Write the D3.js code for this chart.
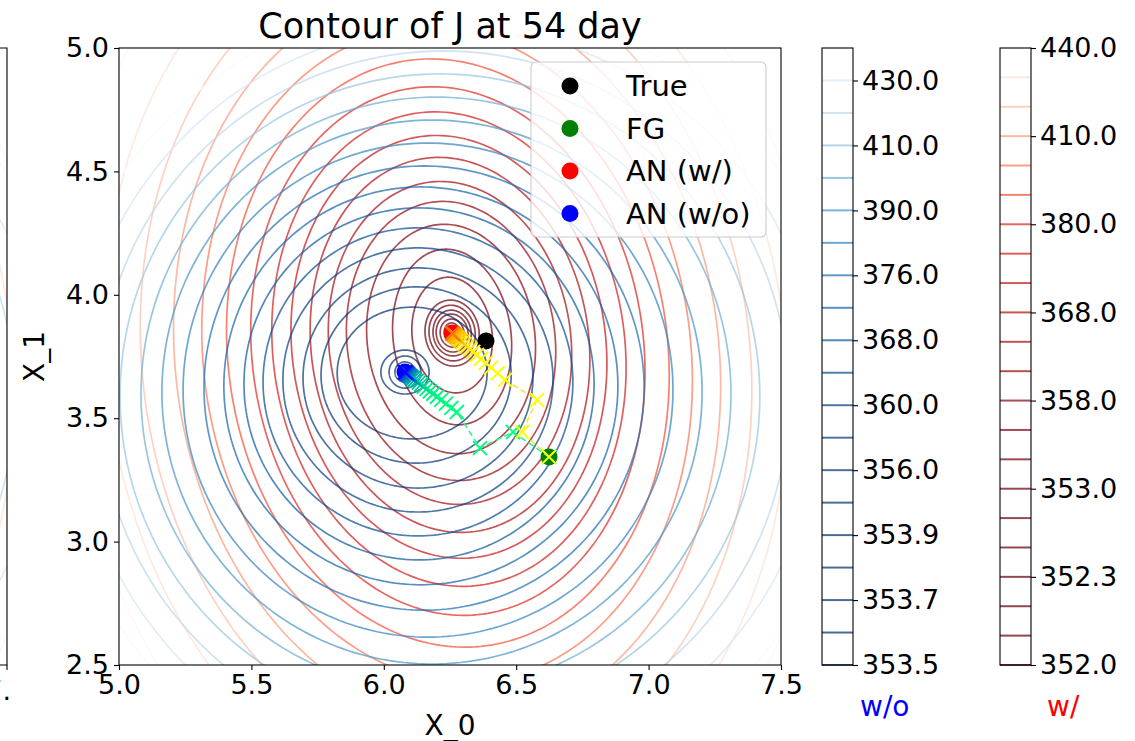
<!DOCTYPE html>
<html>
<head>
<meta charset="utf-8">
<script src="https://cdn.jsdelivr.net/npm/d3@7"></script>
<style>
  body { margin: 0; background: #fff; }
  text { font-family: "DejaVu Sans", sans-serif; }
</style>
</head>
<body>
<div id="viz"></div>
<script>
// ---- data ----
// contour levels (w/o = blue set, w/ = red set), from the colour bars
var levelsWo = [353.5, 353.6, 353.7, 353.8, 353.9, 355.0, 356.0, 358.0, 360.0, 364.0,
                368.0, 372.0, 376.0, 383.0, 390.0, 400.0, 410.0, 420.0, 430.0, 445.0];
var levelsW  = [352.0, 352.1, 352.2, 352.3, 352.5, 352.7, 353.0, 354.5, 356.0, 358.0, 361.0,
                364.5, 368.0, 372.0, 376.0, 380.0, 390.0, 400.0, 410.0, 420.0, 430.0, 440.0];

// ring of each level: centre and half widths in data units
var woCx = [6.080, 6.080, 6.080, 6.080, 6.080, 6.107, 6.122, 6.129, 6.129, 6.129,
            6.133, 6.140, 6.152, 6.167, 6.182, 6.197, 6.212, 6.227, 6.242, 6.258];
var woCy = [3.687, 3.687, 3.687, 3.687, 3.687, 3.683, 3.675, 3.663, 3.655, 3.647,
            3.639, 3.631, 3.622, 3.614, 3.606, 3.598, 3.590, 3.582, 3.574, 3.566];
var woRx = [0.011, 0.023, 0.038, 0.060, 0.091, 0.283, 0.359, 0.434, 0.510, 0.585,
            0.661, 0.744, 0.831, 0.925, 1.020, 1.114, 1.208, 1.303, 1.405, 1.511];
var woRy = [0.012, 0.024, 0.041, 0.065, 0.089, 0.267, 0.357, 0.446, 0.535, 0.624,
            0.713, 0.806, 0.900, 1.001, 1.102, 1.203, 1.305, 1.406, 1.515, 1.629];
var woTilt = 0;

var wCx = [6.258, 6.258, 6.258, 6.258, 6.258, 6.258, 6.258, 6.258, 6.258, 6.254, 6.254,
           6.250, 6.250, 6.246, 6.246, 6.242, 6.242, 6.239, 6.239, 6.235, 6.235, 6.231];
var wCy = [3.845, 3.845, 3.845, 3.845, 3.845, 3.845, 3.845, 3.837, 3.829, 3.821, 3.813,
           3.805, 3.797, 3.789, 3.780, 3.772, 3.764, 3.756, 3.748, 3.740, 3.732, 3.724];
var wRx = [0.015, 0.030, 0.045, 0.060, 0.072, 0.087, 0.102, 0.151, 0.223, 0.317, 0.393,
           0.457, 0.525, 0.593, 0.665, 0.740, 0.831, 0.921, 1.027, 1.148, 1.284, 1.427];
var wRy = [0.020, 0.041, 0.057, 0.077, 0.093, 0.113, 0.134, 0.235, 0.357, 0.466, 0.567,
           0.656, 0.762, 0.859, 0.964, 1.074, 1.195, 1.329, 1.487, 1.661, 1.860, 2.066];
var wTilt = 6;

// colour bar ticks (index into the level list, label)
var woTickIdx = [0, 2, 4, 6, 8, 10, 12, 14, 16, 18];
var woTickLabels = ["353.5", "353.7", "353.9", "356.0", "360.0", "368.0", "376.0", "390.0", "410.0", "430.0"];
var wTickIdx = [0, 3, 6, 9, 12, 15, 18, 21];
var wTickLabels = ["352.0", "352.3", "353.0", "358.0", "368.0", "380.0", "410.0", "440.0"];

// points
var pointNames = ["True", "FG", "AN (w/)", "AN (w/o)"];
var pointX = [6.386, 6.624, 6.258, 6.080];
var pointY = [3.813, 3.343, 3.845, 3.687];

// minimisation paths
var pathWX = [6.624, 6.522, 6.579, 6.458, 6.430, 6.405, 6.385, 6.368, 6.352, 6.338, 6.326, 6.315,
              6.305, 6.297, 6.290, 6.284, 6.278, 6.273, 6.269, 6.265, 6.262, 6.260, 6.258];
var pathWY = [3.343, 3.444, 3.574, 3.655, 3.682, 3.705, 3.724, 3.741, 3.756, 3.769, 3.780, 3.791,
              3.800, 3.808, 3.815, 3.820, 3.826, 3.831, 3.835, 3.838, 3.841, 3.843, 3.845];
var pathWoX = [6.624, 6.488, 6.363, 6.276, 6.255, 6.235, 6.217, 6.201, 6.187, 6.174, 6.162, 6.151,
               6.141, 6.132, 6.124, 6.117, 6.110, 6.104, 6.099, 6.094, 6.090, 6.086, 6.083, 6.080];
var pathWoY = [3.343, 3.444, 3.379, 3.525, 3.542, 3.559, 3.574, 3.587, 3.599, 3.609, 3.619, 3.628,
               3.637, 3.644, 3.651, 3.656, 3.662, 3.667, 3.671, 3.676, 3.679, 3.682, 3.685, 3.687];

// ---- layout ----
var W = 1135, H = 741;
var pLeft = 119, pRight = 781, pTop = 48, pBottom = 665;
var tickFont = 27, labelFont = 28, legendFont = 29;
var lineAlpha = 0.72;

var svg = d3.select("#viz").append("svg")
    .attr("width", W)
    .attr("height", H);

var xscale = d3.scaleLinear().domain([5, 7.5]).range([pLeft, pRight]);
var yscale = d3.scaleLinear().domain([2.5, 5]).range([pBottom, pTop]);
// the neighbouring subplot whose right edge shows at the left of the picture
var xscalePrev = d3.scaleLinear().domain([5, 7.5]).range([7 - (pRight - pLeft), 7]);

function colorWo(v) {
    var t = (v - levelsWo[0]) / (levelsWo[levelsWo.length - 1] - levelsWo[0]);
    return d3.interpolateBlues(1 - t);
}
function colorW(v) {
    var t = (v - levelsW[0]) / (levelsW[levelsW.length - 1] - levelsW[0]);
    return d3.interpolateReds(1 - t);
}

function ring(cx, cy, rx, ry, tilt, xs, ys) {
    var a = tilt * Math.PI / 180;
    var pts = d3.range(0, 241).map(function(i) {
        var t = i / 240 * 2 * Math.PI;
        var dx = rx * Math.cos(t), dy = ry * Math.sin(t);
        return [xs(cx + dx * Math.cos(a) - dy * Math.sin(a)),
                ys(cy + dx * Math.sin(a) + dy * Math.cos(a))];
    });
    return d3.line()(pts) + "Z";
}

var defs = svg.append("defs");
defs.append("clipPath").attr("id", "clipMain")
    .append("rect").attr("x", pLeft).attr("y", pTop).attr("width", pRight - pLeft).attr("height", pBottom - pTop);
defs.append("clipPath").attr("id", "clipPrev")
    .append("rect").attr("x", 0).attr("y", pTop).attr("width", 7).attr("height", pBottom - pTop);

function drawContours(g, xs) {
    levelsW.forEach(function(v, i) {
        g.append("path")
            .attr("d", ring(wCx[i], wCy[i], wRx[i], wRy[i], wTilt, xs, yscale))
            .attr("fill", "none")
            .attr("stroke", colorW(v))
            .attr("stroke-opacity", lineAlpha)
            .attr("stroke-width", 1.7);
    });
    levelsWo.forEach(function(v, i) {
        g.append("path")
            .attr("d", ring(woCx[i], woCy[i], woRx[i], woRy[i], woTilt, xs, yscale))
            .attr("fill", "none")
            .attr("stroke", colorWo(v))
            .attr("stroke-opacity", lineAlpha)
            .attr("stroke-width", 1.7);
    });
}

// neighbour subplot sliver
drawContours(svg.append("g").attr("clip-path", "url(#clipPrev)"), xscalePrev);
svg.append("path").attr("d", "M0," + pTop + "H7V" + pBottom + "H0")
    .attr("fill", "none").attr("stroke", "#000").attr("stroke-width", 1.1);
svg.append("line").attr("x1", 7).attr("x2", 7).attr("y1", pBottom).attr("y2", pBottom + 5)
    .attr("stroke", "#000").attr("stroke-width", 1.1);
svg.append("text").attr("x", 11).attr("y", 700).attr("text-anchor", "end")
    .attr("font-size", tickFont).text("7.");

// main contours
var plot = svg.append("g").attr("clip-path", "url(#clipMain)");
drawContours(plot, xscale);

// points
var pointColors = ["#000000", "#008000", "#ff0000", "#0000ff"];
plot.selectAll(".pt")
    .data(pointNames)
    .enter().append("circle")
    .attr("cx", function(d, i) { return xscale(pointX[i]); })
    .attr("cy", function(d, i) { return yscale(pointY[i]); })
    .attr("r", 8.5)
    .attr("fill", function(d, i) { return pointColors[i]; });

// paths
function drawPath(xs, ys, c0, c1, lineColor) {
    var pts = xs.map(function(x, i) { return [xscale(x), yscale(ys[i])]; });
    plot.append("path")
        .attr("d", d3.line()(pts))
        .attr("fill", "none")
        .attr("stroke", lineColor)
        .attr("stroke-width", 1.6)
        .attr("stroke-dasharray", "6,3.5");
    var col = d3.interpolateRgb(c0, c1);
    var n = pts.length;
    pts.forEach(function(p, i) {
        var f = Math.pow(i / (n - 1), 3);
        plot.append("path")
            .attr("d", "M" + (p[0] - 7) + "," + (p[1] - 7) + "l14,14M" + (p[0] - 7) + "," + (p[1] + 7) + "l14,-14")
            .attr("stroke", col(f))
            .attr("stroke-width", 1.9);
    });
}
drawPath(pathWoX, pathWoY, "#00ff80", "#0000ff", "#33f08f");
drawPath(pathWX, pathWY, "#ffff00", "#ff7000", "#f5e83a");

// frame and axes
svg.append("rect").attr("x", pLeft).attr("y", pTop).attr("width", pRight - pLeft).attr("height", pBottom - pTop)
    .attr("fill", "none").attr("stroke", "#000").attr("stroke-width", 1.1);

var xAxis = svg.append("g")
    .attr("transform", "translate(0," + pBottom + ")")
    .call(d3.axisBottom(xscale).tickValues([5, 5.5, 6, 6.5, 7, 7.5]).tickFormat(d3.format(".1f"))
        .tickSize(5).tickSizeOuter(0).tickPadding(5));
var yAxis = svg.append("g")
    .attr("transform", "translate(" + pLeft + ",0)")
    .call(d3.axisLeft(yscale).tickValues([2.5, 3, 3.5, 4, 4.5, 5]).tickFormat(d3.format(".1f"))
        .tickSize(5).tickSizeOuter(0).tickPadding(5));
[xAxis, yAxis].forEach(function(a) {
    a.select(".domain").remove();
    a.selectAll("text").attr("font-size", tickFont).attr("fill", "#000").attr("font-family", "DejaVu Sans");
    a.selectAll("line").attr("stroke-width", 1.1);
});

svg.append("text").attr("x", (pLeft + pRight) / 2).attr("y", 38).attr("text-anchor", "middle")
    .attr("font-size", 35).text("Contour of J at 54 day");
svg.append("text").attr("x", (pLeft + pRight) / 2).attr("y", 735).attr("text-anchor", "middle")
    .attr("font-size", labelFont).text("X_0");
svg.append("text").attr("transform", "translate(44," + ((pTop + pBottom) / 2) + ") rotate(-90)")
    .attr("text-anchor", "middle").attr("font-size", labelFont).text("X_1");

// legend
var lg = svg.append("g");
lg.append("rect").attr("x", 531).attr("y", 62).attr("width", 235).attr("height", 175).attr("rx", 5)
    .attr("fill", "#fff").attr("fill-opacity", 0.8).attr("stroke", "#cccccc").attr("stroke-width", 1.1);
pointNames.forEach(function(name, i) {
    var yy = 86 + i * 42.5;
    lg.append("circle").attr("cx", 570).attr("cy", yy).attr("r", 8.5).attr("fill", pointColors[i]);
    lg.append("text").attr("x", 626).attr("y", yy + 10).attr("font-size", legendFont).text(name);
});

// colour bars
function colorbar(x0, levels, colorFn, tickIdx, tickLabels, label, labelColor, labelX) {
    var w = 31;
    var cs = d3.scaleLinear().domain([0, levels.length - 1]).range([pBottom, pTop]);
    var g = svg.append("g");
    levels.forEach(function(v, i) {
        g.append("line").attr("x1", x0).attr("x2", x0 + w)
            .attr("y1", cs(i)).attr("y2", cs(i))
            .attr("stroke", colorFn(v)).attr("stroke-opacity", lineAlpha).attr("stroke-width", 2);
    });
    g.append("rect").attr("x", x0).attr("y", pTop).attr("width", w).attr("height", pBottom - pTop)
        .attr("fill", "none").attr("stroke", "#000").attr("stroke-width", 1.1);
    var ax = svg.append("g").attr("transform", "translate(" + (x0 + w) + ",0)")
        .call(d3.axisRight(cs).tickValues(tickIdx)
            .tickFormat(function(d) { return tickLabels[tickIdx.indexOf(d)]; })
            .tickSize(5).tickSizeOuter(0).tickPadding(4));
    ax.select(".domain").remove();
    ax.selectAll("text").attr("font-size", tickFont).attr("fill", "#000").attr("font-family", "DejaVu Sans");
    ax.selectAll("line").attr("stroke-width", 1.1);
    svg.append("text").attr("x", labelX).attr("y", 716).attr("font-size", labelFont)
        .attr("fill", labelColor).text(label);
}
colorbar(822, levelsWo, colorWo, woTickIdx, woTickLabels, "w/o", "#0000ff", 860);
colorbar(1000, levelsW, colorW, wTickIdx, wTickLabels, "w/", "#ff0000", 1047);
</script>
</body>
</html>
